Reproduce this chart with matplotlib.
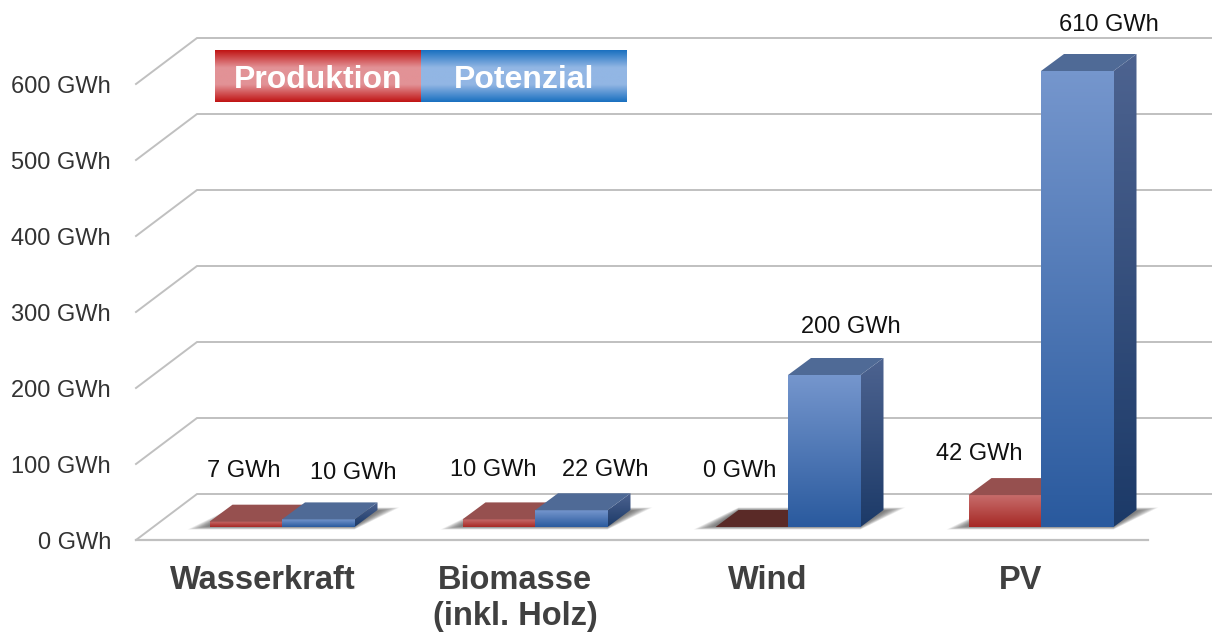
# plot.py
import matplotlib

matplotlib.use("Agg")
import matplotlib.pyplot as plt
import numpy as np
from matplotlib.colors import LinearSegmentedColormap
from matplotlib.patches import Polygon

categories = ["Wasserkraft", "Biomasse\n(inkl. Holz)", "Wind", "PV"]
produktion = [7, 10, 0, 42]
potenzial = [10, 22, 200, 600]
produktion_labels = ["7 GWh", "10 GWh", "0 GWh", "42 GWh"]
potenzial_labels = ["10 GWh", "22 GWh", "200 GWh", "610 GWh"]
y_ticks = [0, 100, 200, 300, 400, 500, 600]
legend_names = ["Produktion", "Potenzial"]

plt.rcParams["font.family"] = ["Liberation Sans", "DejaVu Sans"]

W, H = 1212, 632
X0, X_STEP = 282, 253  # pixel of first category, pixels per category
Y0, Y_SCALE = 527, 0.76  # pixel of bar base, pixels per GWh


def px(x):
    return (x - X0) / X_STEP


def py(y):
    return (Y0 - y) / Y_SCALE


BAR_W = 72.5 / X_STEP
DEPTH_X = 23 / X_STEP
DEPTH_Y = 17 / Y_SCALE


def gradient(axis, colors, x0, x1, y0, y1, clip=None, z=3):
    # colors run from top to bottom
    cmap = LinearSegmentedColormap.from_list("g", colors)
    g = np.linspace(0, 1, 128).reshape(-1, 1)
    im = axis.imshow(
        g, cmap=cmap, extent=(x0, x1, y0, y1), aspect="auto", zorder=z,
        interpolation="bilinear", vmin=0, vmax=1,
    )
    if clip is not None:
        patch = Polygon(clip, transform=axis.transData)
        im.set_clip_path(patch)
    return im


def draw_shadow(axis, x, x1):
    for grow in np.linspace(22, 1, 16):
        g = grow / X_STEP
        lift = (grow * 0.16 - 1) / Y_SCALE
        axis.add_patch(Polygon(
            [(x - g, -lift), (x1, -lift),
             (x1 + DEPTH_X + g, DEPTH_Y + lift), (x + DEPTH_X, DEPTH_Y + lift)],
            fc="#444444", ec="none", alpha=0.065, zorder=2,
        ))


def draw_bar(axis, x, value, front, side, top):
    x1 = x + BAR_W
    if value > 0:
        gradient(axis, front, x, x1, 0, value)
    side_pts = [(x1, 0), (x1 + DEPTH_X, DEPTH_Y), (x1 + DEPTH_X, value + DEPTH_Y), (x1, value)]
    gradient(axis, side, x1, x1 + DEPTH_X, 0, value + DEPTH_Y, clip=side_pts)
    axis.add_patch(Polygon(
        [(x, value), (x1, value), (x1 + DEPTH_X, value + DEPTH_Y), (x + DEPTH_X, value + DEPTH_Y)],
        fc=top, ec="none", zorder=3,
    ))


fig = plt.figure(figsize=(W / 100, H / 100), dpi=100, facecolor="white")
ax = fig.add_axes([0, 0, 1, 1])
ax.axis("off")

# walls and floor lines
floor_front = py(540)
floor_back = py(494)
tick_y0 = py(543)
for t in y_ticks:
    ax.plot([px(136), px(197), px(1212)],
            [floor_front + t, floor_back + t, floor_back + t],
            color="#c0c0c0", lw=1.4, zorder=1, solid_joinstyle="miter")
    ax.text(px(111), tick_y0 + t, f"{t} GWh", ha="right", va="center",
            fontsize=17, color="#333333", zorder=5)
ax.plot([px(136), px(1148)], [floor_front, floor_front], color="#c0c0c0", lw=1.6, zorder=1)

blue_front = ["#7596cd", "#2a5a9e"]
blue_side = ["#4d6390", "#1c3a68"]
red_front = ["#c76c6b", "#a62925"]
red_side = ["#7a3a38", "#5a2220"]

for i in range(len(categories)):
    draw_shadow(ax, i - BAR_W, i + BAR_W)
for i in range(len(categories)):
    top_red = "#96504f" if produktion[i] > 0 else "#5a2a27"
    draw_bar(ax, i - BAR_W, produktion[i], red_front, red_side, top_red)
    draw_bar(ax, i, potenzial[i], blue_front, blue_side, "#4f6a96")

# value labels
prod_pos = [(244, 471), (493, 470), (740, 471), (979, 454)]
pot_pos = [(353, 473), (605, 470), (851, 327), (1109, 25)]
for text, (lx, ly) in zip(produktion_labels + potenzial_labels, prod_pos + pot_pos):
    ax.text(px(lx), py(ly), text, ha="center", va="center", fontsize=17, color="#111111", zorder=6)

# category labels
cat_x = [263, 515, 768, 1021]
for name, cx in zip(categories, cat_x):
    ax.text(px(cx), py(565), name, ha="center", va="top", fontsize=23.5, fontweight="bold",
            color="#404040", linespacing=1.2, zorder=6)

# legend box
legend_colors = [["#c01414", "#e29296", "#e29296", "#c01414"], ["#1a70c0", "#92b6e4", "#92b6e4", "#1a70c0"]]
legend_x = [215, 421, 627]
for k, name in enumerate(legend_names):
    gradient(ax, legend_colors[k], px(legend_x[k]), px(legend_x[k + 1]), py(102), py(50.5), z=7)
    ax.text(px((legend_x[k] + legend_x[k + 1]) / 2), py(80), name, ha="center", va="center",
            fontsize=23, fontweight="bold", color="white", zorder=8)

ax.set_xlim(px(0), px(W))
ax.set_ylim(py(H), py(0))

fig.savefig("out.png", dpi=100)
